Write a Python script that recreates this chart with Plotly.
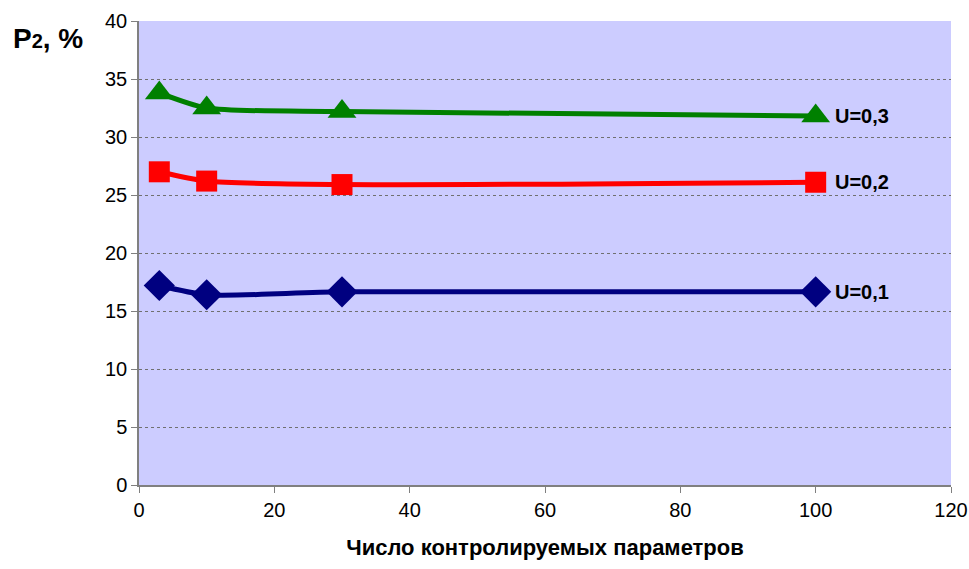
import plotly.graph_objects as go

x_vals = [3, 10, 30, 100]
u03 = [33.8, 32.5, 32.2, 31.8]
u02 = [27.0, 26.2, 25.9, 26.1]
u01 = [17.2, 16.4, 16.65, 16.65]
series = [
    ("U=0,3", u03, "#008000", "triangle-up", 25),
    ("U=0,2", u02, "#FF0000", "square", 21),
    ("U=0,1", u01, "#000080", "diamond", 24),
]

fig = go.Figure()
for name, ys, col, sym, ms in series:
    fig.add_trace(go.Scatter(
        x=x_vals, y=ys, mode="lines+markers", name=name,
        line=dict(color=col, width=5, shape="spline", smoothing=0.7),
        marker=dict(symbol=sym, size=ms, color=col),
        showlegend=False,
    ))
    fig.add_annotation(x=102.5, y=ys[-1], text="<b>" + name + "</b>", showarrow=False,
                       xanchor="left", yanchor="middle",
                       font=dict(family="Liberation Sans, Arial", size=20, color="black"))

fig.add_annotation(xref="paper", yref="paper", x=-0.158, y=1.0, xanchor="left", yanchor="top",
                   text="<b>P<span style='font-size:20px'>2</span>, %</b>", showarrow=False,
                   font=dict(family="Liberation Sans, Arial", size=28, color="black"))

fig.update_layout(
    width=969, height=569,
    margin=dict(l=139, r=18, t=21, b=84),
    paper_bgcolor="white", plot_bgcolor="#CCCCFF",
    font=dict(family="Liberation Sans, Arial", size=20, color="black"),
    xaxis=dict(range=[0, 120], tickvals=[0, 20, 40, 60, 80, 100, 120],
               automargin=False, ticklabeloverflow="allow",
               showgrid=False, zeroline=False, showline=True, linecolor="#808080", linewidth=1.5,
               ticks="outside", ticklen=6, tickcolor="#808080",
               title=dict(text="<b>Число контролируемых параметров</b>", font=dict(size=22), standoff=20)),
    yaxis=dict(range=[0, 40], tickvals=[0, 5, 10, 15, 20, 25, 30, 35, 40],
               automargin=False,
               showgrid=True, gridcolor="#707070", griddash="dot", gridwidth=1,
               zeroline=False, showline=True, linecolor="#808080", linewidth=1.5,
               ticks="outside", ticklen=6, tickcolor="#808080"),
)
fig.write_html("out.html")
